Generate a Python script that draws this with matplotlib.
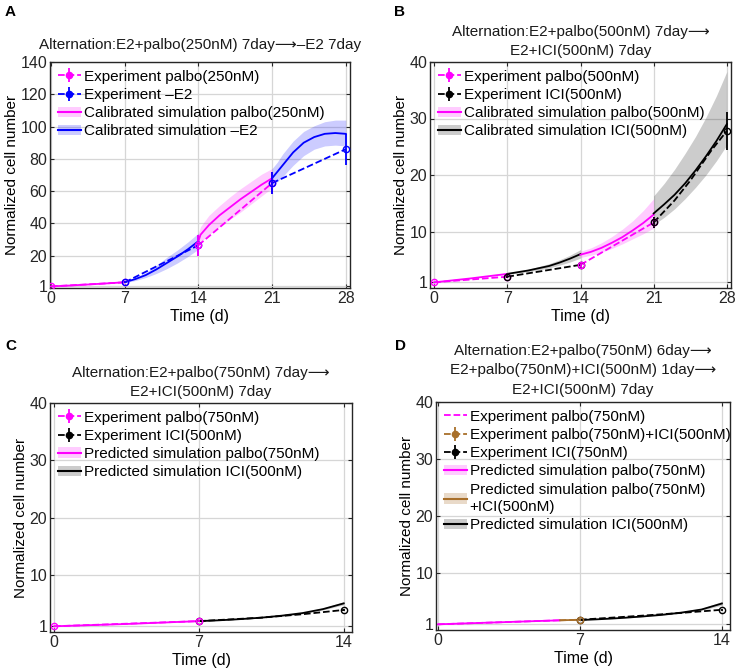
import matplotlib
matplotlib.use('Agg')
import matplotlib.pyplot as plt
from matplotlib.lines import Line2D
from matplotlib.patches import Patch
import numpy as np

plt.rcParams['font.family'] = ['Liberation Sans', 'DejaVu Sans']
plt.rcParams['font.size'] = 11

MAG = '#FF00FF'
BLUE = '#0000FF'
BLK = '#000000'
BRN = '#A86F2A'

# ---------------- panel A data ----------------
a_exp_palbo1_t = [0, 7]
a_exp_palbo1_y = [1, 3.5]
a_exp_palbo1_e = [0.1, 0.6]
a_exp_e2_1_t = [7, 14]
a_exp_e2_1_y = [3.5, 26.5]
a_exp_e2_1_e = [0.6, 6.5]
a_exp_palbo2_t = [14, 21]
a_exp_palbo2_y = [26.5, 65]
a_exp_palbo2_e = [6.5, 7.0]
a_exp_e2_2_t = [21, 28]
a_exp_e2_2_y = [65, 86]
a_exp_e2_2_e = [7.0, 9.5]

a_sim_palbo1_t = [0, 1, 2, 3, 4, 5, 6, 7]
a_sim_palbo1_y = [1, 1.3, 1.6, 2.0, 2.35, 2.75, 3.15, 3.6]
a_sim_palbo1_lo = [1, 1.25, 1.5, 1.85, 2.2, 2.55, 2.9, 3.3]
a_sim_palbo1_hi = [1, 1.35, 1.7, 2.15, 2.5, 2.95, 3.4, 3.9]
a_sim_e2_1_t = [7, 8, 9, 10, 11, 12, 13, 14]
a_sim_e2_1_y = [3.6, 5.5, 8.0, 11.5, 15.5, 19.5, 24.0, 29.0]
a_sim_e2_1_lo = [3.3, 4.6, 6.5, 9.0, 12.0, 15.5, 19.5, 24.0]
a_sim_e2_1_hi = [3.9, 6.5, 9.6, 14.0, 19.0, 23.5, 28.5, 34.0]
a_sim_palbo2_t = [14, 14.2, 15, 16, 17, 18, 19, 20, 21]
a_sim_palbo2_y = [29, 33, 39, 45, 50, 55, 59.5, 64, 68]
a_sim_palbo2_lo = [26, 28.5, 33, 38, 42.5, 47, 52, 57, 62]
a_sim_palbo2_hi = [34, 38, 45, 51, 56.5, 61.5, 66, 70.5, 74]
a_sim_e2_2_t = [21, 21.5, 22, 23, 24, 25, 26, 27, 28]
a_sim_e2_2_y = [68, 72, 76, 84, 90, 93.5, 95.5, 96, 95.5]
a_sim_e2_2_lo = [63, 66, 69, 76, 82, 86, 88, 88.5, 88]
a_sim_e2_2_hi = [74, 78, 83, 91, 97, 100.5, 103, 104, 104]

# ---------------- panel B data ----------------
b_exp_palbo1_t = [0, 7]
b_exp_palbo1_y = [1, 2.0]
b_exp_palbo1_e = [0.05, 0.3]
b_exp_ici1_t = [7, 14]
b_exp_ici1_y = [2.0, 4.1]
b_exp_ici1_e = [0.3, 0.5]
b_exp_palbo2_t = [14, 21]
b_exp_palbo2_y = [4.1, 11.6]
b_exp_palbo2_e = [0.5, 1.0]
b_exp_ici2_t = [21, 23, 24.5, 26.5, 28]
b_exp_ici2_y = [11.6, 15.5, 19.0, 24.3, 27.8]
b_exp_ici2_e = [1.0, 0, 0, 0, 3.4]

b_sim_palbo1_t = [0, 3.5, 7]
b_sim_palbo1_y = [1, 1.7, 2.5]
b_sim_palbo1_lo = [1, 1.65, 2.35]
b_sim_palbo1_hi = [1, 1.75, 2.65]
b_sim_ici1_t = [7, 8, 9, 10, 11, 12, 13, 14]
b_sim_ici1_y = [2.5, 2.8, 3.1, 3.5, 3.9, 4.5, 5.2, 6.0]
b_sim_ici1_lo = [2.4, 2.65, 2.9, 3.2, 3.55, 4.05, 4.6, 5.3]
b_sim_ici1_hi = [2.6, 2.95, 3.3, 3.8, 4.3, 5.0, 5.8, 6.8]
b_sim_palbo2_t = [14, 15, 16, 17, 18, 19, 20, 21]
b_sim_palbo2_y = [5.9, 6.4, 7.1, 8.0, 9.0, 10.2, 11.5, 13.0]
b_sim_palbo2_lo = [5.4, 5.8, 6.3, 7.0, 7.8, 8.7, 9.6, 10.6]
b_sim_palbo2_hi = [6.5, 7.1, 8.0, 9.1, 10.4, 11.9, 13.7, 15.8]
b_sim_ici2_t = [21, 22, 23, 24, 25, 26, 27, 28]
b_sim_ici2_y = [13.2, 14.8, 16.5, 18.5, 20.8, 23.3, 26.0, 29.0]
b_sim_ici2_lo = [11.2, 12.5, 14.0, 15.8, 17.8, 20.0, 22.5, 25.3]
b_sim_ici2_hi = [16.3, 18.5, 21.0, 23.8, 26.8, 30.2, 34.0, 38.3]

# ---------------- panel C data ----------------
c_exp_palbo_t = [0, 7]
c_exp_palbo_y = [1, 1.9]
c_exp_palbo_e = [0.02, 0.15]
c_exp_ici_t = [7, 10, 12, 14]
c_exp_ici_y = [1.9, 2.5, 3.1, 3.85]
c_exp_ici_e = [0.15, 0, 0, 0.2]

c_sim_palbo_t = [0, 3.5, 7]
c_sim_palbo_y = [1, 1.4, 1.9]
c_sim_palbo_lo = [1, 1.38, 1.85]
c_sim_palbo_hi = [1, 1.42, 1.95]
c_sim_ici_t = [7, 8, 9, 10, 11, 12, 13, 14]
c_sim_ici_y = [1.9, 2.05, 2.25, 2.5, 2.85, 3.3, 4.0, 5.0]
c_sim_ici_lo = [1.85, 2.0, 2.2, 2.45, 2.75, 3.2, 3.85, 4.75]
c_sim_ici_hi = [1.95, 2.1, 2.32, 2.6, 2.95, 3.45, 4.2, 5.3]

# ---------------- panel D data ----------------
d_exp_palbo_t = [0, 6]
d_exp_palbo_y = [1, 1.7]
d_exp_combo_t = [6, 7]
d_exp_combo_y = [1.7, 1.8]
d_exp_combo_e = [0, 0.2]
d_exp_ici_t = [7, 10, 12, 14]
d_exp_ici_y = [1.8, 2.5, 3.0, 3.55]
d_exp_ici_e = [0.15, 0, 0, 0.15]

d_sim_palbo_t = [0, 3, 6]
d_sim_palbo_y = [1, 1.35, 1.7]
d_sim_palbo_lo = [1, 1.33, 1.66]
d_sim_palbo_hi = [1, 1.37, 1.74]
d_sim_combo_t = [6, 7]
d_sim_combo_y = [1.7, 1.8]
d_sim_combo_lo = [1.66, 1.75]
d_sim_combo_hi = [1.74, 1.85]
d_sim_ici_t = [7, 8, 9, 10, 11, 12, 13, 14]
d_sim_ici_y = [1.75, 1.9, 2.1, 2.35, 2.65, 3.05, 3.6, 4.65]
d_sim_ici_lo = [1.7, 1.85, 2.05, 2.3, 2.55, 2.95, 3.45, 4.35]
d_sim_ici_hi = [1.8, 1.95, 2.15, 2.42, 2.75, 3.15, 3.8, 5.0]

titles = ['Alternation:E2+palbo(250nM) 7day\u27f6\u2013E2 7day',
          'Alternation:E2+palbo(500nM) 7day\u27f6\nE2+ICI(500nM) 7day',
          'Alternation:E2+palbo(750nM) 7day\u27f6\nE2+ICI(500nM) 7day',
          'Alternation:E2+palbo(750nM) 6day\u27f6\nE2+palbo(750nM)+ICI(500nM) 1day\u27f6\nE2+ICI(500nM) 7day']


def sim(ax, t, y, lo, hi, color, alpha=0.2):
    ax.fill_between(t, lo, hi, color=color, alpha=alpha, lw=0, zorder=2)
    ax.plot(t, y, color=color, lw=1.3, zorder=4)


def exp(ax, t, y, e, color, marker_idx=None):
    ax.plot(t, y, color=color, ls='--', lw=1.3, zorder=5)
    if marker_idx is None:
        marker_idx = [0, len(t) - 1]
    tt = [t[i] for i in marker_idx]
    yy = [y[i] for i in marker_idx]
    ee = [e[i] for i in marker_idx]
    ax.errorbar(tt, yy, yerr=ee, fmt='o', color=color, ms=4.5, mfc='none',
                mew=1.0, elinewidth=1.3, capsize=0, zorder=6)


def exp_handle(color, marker=True):
    if not marker:
        return Line2D([], [], color=color, ls='--', lw=1.3)
    return (Line2D([], [], color=color, ls='--', lw=1.3, marker='o', ms=4.5),
            Line2D([], [], color=color, ls='none', marker='|', ms=10, mew=1.3))


def sim_handle(color, alpha=0.2):
    return (Patch(facecolor=color, alpha=alpha, lw=0), Line2D([], [], color=color, lw=1.5))


def style(ax, xticks, xlim, yticks, ylim):
    ax.set_xlim(xlim)
    ax.set_ylim(ylim)
    ax.set_xticks(xticks)
    ax.set_yticks(yticks)
    ax.grid(True, color='#d6d6d6', lw=0.9, zorder=0)
    ax.set_axisbelow(True)
    ax.tick_params(direction='in', top=True, right=True, length=3, width=0.8,
                   labelsize=11.5, colors='#262626', labelcolor='#262626', pad=2)
    for s in ax.spines.values():
        s.set_linewidth(1.0)
        s.set_color('#262626')
    ax.set_xlabel('Time (d)', fontsize=11.5, labelpad=2.5)
    ax.set_ylabel('Normalized cell number', fontsize=11, labelpad=1)


def legend(ax, handles, labels):
    leg = ax.legend(handles, labels, loc='upper left', frameon=False, fontsize=11,
                    handlelength=1.5, handletextpad=0.2, labelspacing=0.28,
                    borderaxespad=0.2, borderpad=0.3)
    for txt in leg.get_texts():
        txt.set_linespacing(1.3)


W, H = 736, 671
fig = plt.figure(figsize=(W / 100, H / 100), dpi=100)


def box(l, r, t, b):
    return [l / W, (H - b) / H, (r - l) / W, (b - t) / H]


axA = fig.add_axes(box(50, 350, 62, 288))
axB = fig.add_axes(box(430, 731, 62, 288))
axC = fig.add_axes(box(50, 352, 403, 632))
axD = fig.add_axes(box(436, 730, 402, 630))

# A
sim(axA, a_sim_palbo1_t, a_sim_palbo1_y, a_sim_palbo1_lo, a_sim_palbo1_hi, MAG)
sim(axA, a_sim_e2_1_t, a_sim_e2_1_y, a_sim_e2_1_lo, a_sim_e2_1_hi, BLUE)
sim(axA, a_sim_palbo2_t, a_sim_palbo2_y, a_sim_palbo2_lo, a_sim_palbo2_hi, MAG)
sim(axA, a_sim_e2_2_t, a_sim_e2_2_y, a_sim_e2_2_lo, a_sim_e2_2_hi, BLUE)
exp(axA, a_exp_palbo1_t, a_exp_palbo1_y, a_exp_palbo1_e, MAG)
exp(axA, a_exp_e2_1_t, a_exp_e2_1_y, a_exp_e2_1_e, BLUE)
exp(axA, a_exp_palbo2_t, a_exp_palbo2_y, a_exp_palbo2_e, MAG)
exp(axA, a_exp_e2_2_t, a_exp_e2_2_y, a_exp_e2_2_e, BLUE)
style(axA, [0, 7, 14, 21, 28], (-0.1, 28.4), [1, 20, 40, 60, 80, 100, 120, 140], (0, 140))
legend(axA, [exp_handle(MAG), exp_handle(BLUE), sim_handle(MAG), sim_handle(BLUE)],
       ['Experiment palbo(250nM)', 'Experiment \u2013E2',
        'Calibrated simulation palbo(250nM)', 'Calibrated simulation \u2013E2'])

# B
sim(axB, b_sim_palbo1_t, b_sim_palbo1_y, b_sim_palbo1_lo, b_sim_palbo1_hi, MAG)
sim(axB, b_sim_ici1_t, b_sim_ici1_y, b_sim_ici1_lo, b_sim_ici1_hi, BLK)
sim(axB, b_sim_palbo2_t, b_sim_palbo2_y, b_sim_palbo2_lo, b_sim_palbo2_hi, MAG)
sim(axB, b_sim_ici2_t, b_sim_ici2_y, b_sim_ici2_lo, b_sim_ici2_hi, BLK)
exp(axB, b_exp_palbo1_t, b_exp_palbo1_y, b_exp_palbo1_e, MAG)
exp(axB, b_exp_ici1_t, b_exp_ici1_y, b_exp_ici1_e, BLK)
exp(axB, b_exp_palbo2_t, b_exp_palbo2_y, b_exp_palbo2_e, MAG)
exp(axB, b_exp_ici2_t, b_exp_ici2_y, b_exp_ici2_e, BLK)
style(axB, [0, 7, 14, 21, 28], (-0.4, 28.4), [1, 10, 20, 30, 40], (0, 40))
legend(axB, [exp_handle(MAG), exp_handle(BLK), sim_handle(MAG), sim_handle(BLK)],
       ['Experiment palbo(500nM)', 'Experiment ICI(500nM)',
        'Calibrated simulation palbo(500nM)', 'Calibrated simulation ICI(500nM)'])

# C
sim(axC, c_sim_palbo_t, c_sim_palbo_y, c_sim_palbo_lo, c_sim_palbo_hi, MAG)
sim(axC, c_sim_ici_t, c_sim_ici_y, c_sim_ici_lo, c_sim_ici_hi, BLK)
exp(axC, c_exp_ici_t, c_exp_ici_y, c_exp_ici_e, BLK)
exp(axC, c_exp_palbo_t, c_exp_palbo_y, c_exp_palbo_e, MAG)
style(axC, [0, 7, 14], (-0.2, 14.4), [1, 10, 20, 30, 40], (0, 40))
legend(axC, [exp_handle(MAG), exp_handle(BLK), sim_handle(MAG), sim_handle(BLK)],
       ['Experiment palbo(750nM)', 'Experiment ICI(500nM)',
        'Predicted simulation palbo(750nM)', 'Predicted simulation ICI(500nM)'])

# D
sim(axD, d_sim_palbo_t, d_sim_palbo_y, d_sim_palbo_lo, d_sim_palbo_hi, MAG)
sim(axD, d_sim_combo_t, d_sim_combo_y, d_sim_combo_lo, d_sim_combo_hi, BRN)
sim(axD, d_sim_ici_t, d_sim_ici_y, d_sim_ici_lo, d_sim_ici_hi, BLK)
axD.plot(d_exp_palbo_t, d_exp_palbo_y, color=MAG, ls='--', lw=1.3, zorder=5)
exp(axD, d_exp_ici_t, d_exp_ici_y, d_exp_ici_e, BLK)
exp(axD, d_exp_combo_t, d_exp_combo_y, d_exp_combo_e, BRN, marker_idx=[1])
style(axD, [0, 7, 14], (-0.1, 14.4), [1, 10, 20, 30, 40], (0, 40))
legend(axD, [exp_handle(MAG, marker=False), exp_handle(BRN), exp_handle(BLK),
             sim_handle(MAG), sim_handle(BRN, 0.25), sim_handle(BLK)],
       ['Experiment palbo(750nM)', 'Experiment palbo(750nM)+ICI(500nM)',
        'Experiment ICI(750nM)', 'Predicted simulation palbo(750nM)',
        'Predicted simulation palbo(750nM)\n+ICI(500nM)', 'Predicted simulation ICI(500nM)'])

pads = [9, 5, 5, 6]
for ax, ttl, p in zip([axA, axB, axC, axD], titles, pads):
    ax.set_title(ttl, fontsize=11, pad=p, linespacing=1.5, color='#1a1a1a')

for lab, x, y in [('A', 5, 12), ('B', 394, 12), ('C', 5, 346), ('D', 395, 346)]:
    fig.text(x / W, 1 - y / H, lab, fontsize=11, fontweight='bold', va='center', ha='left')

fig.savefig('out.png', dpi=100)
